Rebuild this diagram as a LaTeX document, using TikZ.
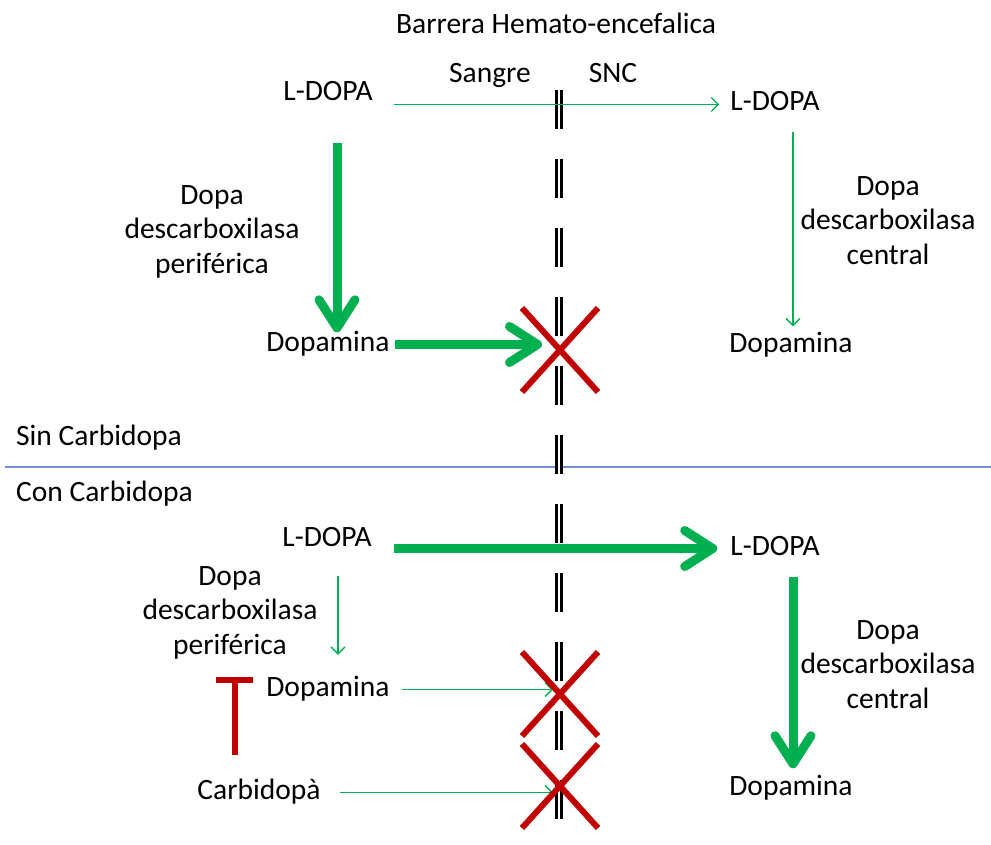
\documentclass[tikz,border=0pt]{standalone}
\usepackage{fontspec}
\setmainfont{Carlito}
\usetikzlibrary{arrows.meta}
\tikzset{
  lbl/.style = {font = \fontsize{29.5}{34.5}\selectfont, inner sep = 2pt, text height = 19pt, text depth = 6pt},
  desc/.style = {font = \fontsize{29.5}{34.5}\selectfont, inner sep = 0pt, align = center, anchor = north},
  thinarr/.style = {draw = dgreen, line width = 1.3pt, -{Straight Barb[length = 7pt, width = 14pt]}},
  thickarr/.style = {draw = dgreen, line width = 9pt, -{Straight Barb[length = 28pt, width = 36pt, round]}},
  barrier/.style = {draw = black, line width = 2.3pt, double = white, double distance = 2.5pt, dash pattern = on 39pt off 30pt},
  cross/.style = {draw = xred, line width = 6pt}
}
\begin{document}
\begin{tikzpicture}[x = 1pt, y = -1pt]
\definecolor{dgreen}{HTML}{00B050}
\definecolor{xred}{HTML}{C00000}
\definecolor{sepblue}{HTML}{6F94C8}
\pgfmathsetlengthmacro\crossw{38}
\pgfmathsetlengthmacro\crossh{42}
\useasboundingbox (0,0) rectangle (991,845);
\node[lbl] (title) at (556,27.5) {Barrera Hemato-encefalica};
\node[lbl] (sangre) at (490,76.5) {Sangre};
\node[lbl] (snc) at (613,76.5) {SNC};
\node[lbl] (ldopa1) at (328,94.5) {L-DOPA};
\node[lbl] (ldopa2) at (775,104.5) {L-DOPA};
\node[lbl] (dopa1) at (328,344.5) {Dopamina};
\node[lbl] (dopa2) at (791,345.5) {Dopamina};
\node[desc] (ddc1) at (212,185) {Dopa\\descarboxilasa\\periférica};
\node[desc] (ddc2) at (888,176) {Dopa\\descarboxilasa\\central};
\node[lbl, anchor = west] (sin) at (14,438.5) {Sin Carbidopa};
\node[lbl, anchor = west] (con) at (14,494.5) {Con Carbidopa};
\node[lbl] (ldopa3) at (327,539.5) {L-DOPA};
\node[lbl] (ldopa4) at (775,548.5) {L-DOPA};
\node[desc] (ddc3) at (230,566) {Dopa\\descarboxilasa\\periférica};
\node[desc] (ddc4) at (888,620) {Dopa\\descarboxilasa\\central};
\node[lbl] (dopa3) at (328,689.5) {Dopamina};
\node[lbl] (dopa4) at (791,788.5) {Dopamina};
\node[lbl] (carbi) at (259,792.5) {Carbidopà};
\coordinate (x1) at (560,350);
\coordinate (x2) at (560,694);
\coordinate (x3) at (560,786);
\draw [draw = sepblue, line width = 1.2pt] (5,467) -- (991,467);
\draw [barrier] (559,90) -- (559,819);
\draw [thinarr, shorten <= 19pt, shorten >= 9pt] (ldopa1.east |- ldopa2.west) -- (ldopa2.west);
\draw [thickarr, shorten <= 34pt, shorten >= -2.5pt] ([xshift = 9pt]ldopa1.south) -- ([xshift = 9pt]dopa1.north);
\draw [thinarr, shorten <= 13pt, shorten >= 4.5pt] ([xshift = 18pt]ldopa2.south) -- ([xshift = 18pt]ldopa2.south |- dopa2.north);
\draw [thickarr, shorten <= 3pt, shorten >= 18pt] (dopa1.east) -- (dopa1.east -| x1);
\draw [thickarr, shorten <= 20pt, shorten >= 11pt] (ldopa3.east |- ldopa4.west) -- (ldopa4.west);
\draw [thickarr, shorten <= 14pt, shorten >= 5.5pt] ([xshift = 18pt]ldopa4.south) -- ([xshift = 18pt]ldopa4.south |- dopa4.north);
\draw [thinarr, shorten <= 22pt, shorten >= 20pt] ([xshift = 11pt]ldopa3.south) -- ([xshift = 11pt]ldopa3.south |- dopa3.north);
\draw [thinarr, shorten <= 10pt, shorten >= 7pt] (dopa3.east) -- (dopa3.east -| x2);
\draw [thinarr, shorten <= 17pt, shorten >= 7pt] (carbi.east) -- (carbi.east -| x3);
\foreach \c in {x1,x2,x3}
  \draw [cross] ([xshift = -\crossw, yshift = \crossh]\c) -- ([xshift = \crossw, yshift = -\crossh]\c)
        ([xshift = -\crossw, yshift = -\crossh]\c) -- ([xshift = \crossw, yshift = \crossh]\c);
\draw [cross] (216,680) -- (253,680) (234.5,680) -- (234.5,755);
\end{tikzpicture}
\end{document}
